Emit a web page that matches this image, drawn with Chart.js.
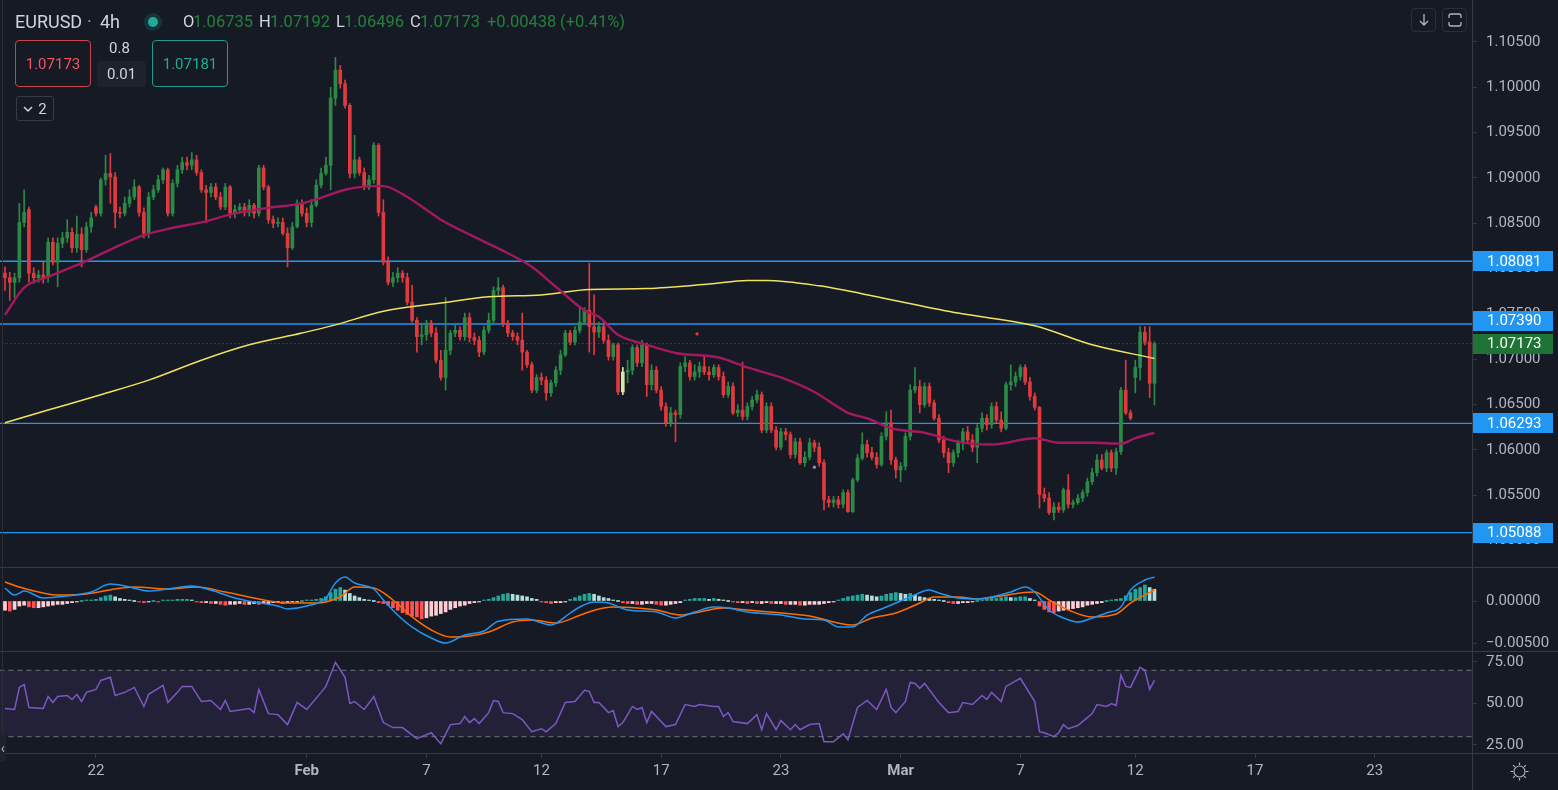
<!DOCTYPE html>
<html>
<head>
<meta charset="utf-8">
<title>EURUSD 4h</title>
<script src="https://cdn.jsdelivr.net/npm/chart.js@4.4.1/dist/chart.umd.min.js"></script>
<style>
  html, body { margin: 0; padding: 0; }
  body { width: 1558px; height: 790px; background: #161a25; position: relative; overflow: hidden;
         font-family: Roboto, 'DejaVu Sans', sans-serif; color: #d1d4dc; }
  canvas { position: absolute; left: 0; display: block; }
  #mainCanvas { top: 0; }
  #macdCanvas { top: 568px; }
  #rsiCanvas { top: 652px; }
  .hline { position: absolute; left: 0; width: 1558px; height: 1px; background: #363a45; }
  .vline { position: absolute; width: 1px; background: #363a45; }
  .abs { position: absolute; white-space: nowrap; line-height: 1; }
  .box { position: absolute; box-sizing: border-box; display: flex; align-items: center; justify-content: center; border-radius: 4px; }
  .up { color: #25803d; }
</style>
</head>
<body>
<canvas id="mainCanvas" width="1558" height="567"></canvas>
<canvas id="macdCanvas" width="1558" height="83"></canvas>
<canvas id="rsiCanvas" width="1558" height="138"></canvas>

<div class="hline" style="top:567px"></div>
<div class="hline" style="top:651px"></div>
<div class="hline" style="top:753px"></div>
<div class="vline" style="left:1472px;top:753px;height:37px"></div>
<div class="vline" style="left:2px;top:0;height:753px;background:#2a2e39"></div>

<!-- legend -->
<div class="abs" style="left:15px;top:13px;font-size:18px">EURUSD</div>
<div class="abs" style="left:87px;top:13px;font-size:18px;color:#9598a1">·</div>
<div class="abs" style="left:100px;top:13px;font-size:18px">4h</div>
<div style="position:absolute;left:144px;top:13px;width:18px;height:18px;border-radius:50%;background:rgba(34,171,148,0.18)"></div>
<div style="position:absolute;left:148px;top:17px;width:10px;height:10px;border-radius:50%;background:#22ab94"></div>
<div class="abs" style="left:183px;top:14px;font-size:16.5px">O</div>
<div class="abs up" style="left:193px;top:14px;font-size:16.5px">1.06735</div>
<div class="abs" style="left:259px;top:14px;font-size:16.5px">H</div>
<div class="abs up" style="left:270px;top:14px;font-size:16.5px">1.07192</div>
<div class="abs" style="left:336px;top:14px;font-size:16.5px">L</div>
<div class="abs up" style="left:344px;top:14px;font-size:16.5px">1.06496</div>
<div class="abs" style="left:410px;top:14px;font-size:16.5px">C</div>
<div class="abs up" style="left:420px;top:14px;font-size:16.5px">1.07173</div>
<div class="abs up" style="left:487px;top:14px;font-size:16.5px">+0.00438</div>
<div class="abs up" style="left:560px;top:14px;font-size:16.5px">(+0.41%)</div>

<div class="box" style="left:15px;top:40px;width:76px;height:47px;border:1px solid #c9434d;color:#f7525f;font-size:15px">1.07173</div>
<div class="abs" style="left:109px;top:41px;font-size:15px">0.8</div>
<div class="box" style="left:97px;top:61px;width:49px;height:26px;background:#1e222d;font-size:15px">0.01</div>
<div class="box" style="left:152px;top:40px;width:76px;height:47px;border:1px solid #1f9c8c;color:#22ab94;font-size:15px">1.07181</div>
<div class="box" style="left:16px;top:96px;width:38px;height:25px;border:1px solid #363a45;border-radius:3px;font-size:15px">
  <svg width="10" height="8" style="margin-right:5px"><path d="M1 2 L5 6 L9 2" stroke="#d1d4dc" stroke-width="1.5" fill="none"/></svg>2
</div>

<!-- top-right buttons -->
<div class="box" style="left:1411px;top:8px;width:25px;height:24px;border:1px solid #2a2e39">
  <svg width="14" height="14"><path d="M7 1 V12 M3 8 L7 12 L11 8" stroke="#b2b5be" stroke-width="1.3" fill="none"/></svg>
</div>
<div class="box" style="left:1442px;top:8px;width:25px;height:24px;border:1px solid #2a2e39">
  <svg width="16" height="16"><path d="M2 6 V4 Q2 2 4 2 H12 Q14 2 14 4 V6 M2 10 V12 Q2 14 4 14 H12 Q14 14 14 12 V10" stroke="#b2b5be" stroke-width="1.3" fill="none"/></svg>
</div>
<!-- settings gear -->
<svg style="position:absolute;left:1509px;top:761px" width="21" height="21">
  <circle cx="10.5" cy="10.5" r="5.5" stroke="#b2b5be" stroke-width="1.2" fill="none"/>
  <path d="M10.5 1.5 V4 M10.5 17 V19.5 M1.5 10.5 H4 M17 10.5 H19.5 M4.1 4.1 L5.9 5.9 M15.1 15.1 L16.9 16.9 M4.1 16.9 L5.9 15.1 M15.1 5.9 L16.9 4.1" stroke="#b2b5be" stroke-width="1.2"/>
</svg>
<div class="box" style="left:-14px;top:734px;width:20px;height:28px;background:#1e222d;justify-content:flex-end;padding-right:1px;font-size:14px;color:#b2b5be">‹</div>

<script>
// ---- price series, 4h bars (x = bar number) ----
const opens = [
  1.0795,1.0790,1.0785,1.0790,1.0851,1.0865,1.0795,1.0790,1.0793,1.0790,
  1.0829,1.0807,1.0828,1.0834,1.0840,1.0823,1.0838,1.0821,1.0846,1.0868,
  1.0861,1.0898,1.0905,1.0901,1.0862,1.0861,1.0872,1.0879,1.0890,1.0862,
  1.0839,1.0879,1.0887,1.0898,1.0909,1.0861,1.0894,1.0909,1.0917,1.0914,
  1.0920,1.0906,1.0887,1.0884,1.0890,1.0879,1.0868,1.0890,1.0861,1.0865,
  1.0868,1.0862,1.0870,1.0861,1.0911,1.0890,1.0854,1.0850,1.0851,1.0839,
  1.0823,1.0846,1.0872,1.0861,1.0851,1.0870,1.0892,1.0905,1.0914,1.0988,
  1.1019,1.1004,1.0980,1.0905,1.0920,1.0906,1.0890,1.0898,1.0936,1.0862,
  1.0807,1.0785,1.0790,1.0795,1.0790,1.0763,1.0743,1.0725,1.0727,1.0740,
  1.0729,1.0699,1.0680,1.0710,1.0729,1.0732,1.0725,1.0746,1.0724,1.0721,
  1.0708,1.0732,1.0743,1.0776,1.0779,1.0740,1.0729,1.0725,1.0721,1.0708,
  1.0694,1.0666,1.0680,1.0677,1.0663,1.0674,1.0688,1.0705,1.0729,1.0719,
  1.0732,1.0741,1.0754,1.0736,1.0730,1.0736,1.0721,1.0703,1.0716,1.0664,
  1.0686,1.0688,1.0713,1.0696,1.0716,1.0672,1.0688,1.0666,1.0648,1.0630,
  1.0641,1.0639,1.0692,1.0696,1.0681,1.0686,1.0692,1.0686,1.0683,1.0691,
  1.0681,1.0661,1.0670,1.0641,1.0644,1.0637,1.0648,1.0655,1.0661,1.0622,
  1.0648,1.0622,1.0603,1.0620,1.0617,1.0595,1.0609,1.0586,1.0592,1.0608,
  1.0603,1.0586,1.0545,1.0542,1.0545,1.0540,1.0553,1.0532,1.0567,1.0591,
  1.0606,1.0597,1.0592,1.0584,1.0615,1.0630,1.0589,1.0578,1.0582,1.0615,
  1.0666,1.0670,1.0650,1.0670,1.0652,1.0635,1.0611,1.0597,1.0586,1.0597,
  1.0608,1.0620,1.0611,1.0603,1.0624,1.0635,1.0628,1.0648,1.0633,1.0624,
  1.0672,1.0675,1.0681,1.0691,1.0675,1.0659,1.0647,1.0551,1.0547,1.0531,
  1.0537,1.0534,1.0556,1.0540,1.0542,1.0547,1.0553,1.0565,1.0575,1.0589,
  1.0580,1.0597,1.0580,1.0598,1.0666,1.0641,1.0680,1.0691,1.0730,1.0719,
  1.06735
];
const highs = [
  1.0802,1.0796,1.0795,1.0872,1.0887,1.0868,1.0801,1.0798,1.0807,1.0834,
  1.0834,1.0834,1.0840,1.0854,1.0845,1.0858,1.0845,1.0851,1.0862,1.0870,
  1.0900,1.0925,1.0927,1.0906,1.0868,1.0879,1.0887,1.0898,1.0892,1.0867,
  1.0884,1.0892,1.0903,1.0911,1.0911,1.0898,1.0914,1.0923,1.0923,1.0928,
  1.0925,1.0909,1.0892,1.0894,1.0894,1.0884,1.0894,1.0892,1.0870,1.0872,
  1.0872,1.0876,1.0872,1.0914,1.0914,1.0892,1.0858,1.0856,1.0856,1.0845,
  1.0851,1.0876,1.0876,1.0867,1.0876,1.0898,1.0911,1.0923,1.1000,1.1033,
  1.1024,1.1008,1.0982,1.0947,1.0923,1.0911,1.0903,1.0939,1.0938,1.0876,
  1.0813,1.0796,1.0801,1.0798,1.0795,1.0782,1.0746,1.0740,1.0743,1.0743,
  1.0735,1.0710,1.0768,1.0732,1.0738,1.0736,1.0751,1.0751,1.0729,1.0725,
  1.0736,1.0751,1.0780,1.0790,1.0782,1.0743,1.0732,1.0729,1.0751,1.0710,
  1.0697,1.0683,1.0685,1.0681,1.0677,1.0692,1.0710,1.0732,1.0732,1.0736,
  1.0757,1.0757,1.0806,1.0771,1.0741,1.0741,1.0727,1.0718,1.0718,1.0691,
  1.0699,1.0716,1.0716,1.0721,1.0718,1.0694,1.0692,1.0670,1.0652,1.0647,
  1.0644,1.0696,1.0703,1.0699,1.0694,1.0697,1.0703,1.0692,1.0694,1.0694,
  1.0686,1.0675,1.0674,1.0650,1.0697,1.0652,1.0659,1.0666,1.0664,1.0652,
  1.0652,1.0626,1.0624,1.0624,1.0620,1.0613,1.0613,1.0598,1.0613,1.0611,
  1.0608,1.0589,1.0549,1.0549,1.0549,1.0556,1.0556,1.0569,1.0595,1.0619,
  1.0611,1.0603,1.0597,1.0619,1.0642,1.0644,1.0592,1.0586,1.0619,1.0672,
  1.0691,1.0677,1.0674,1.0674,1.0655,1.0639,1.0615,1.0602,1.0600,1.0611,
  1.0624,1.0626,1.0617,1.0628,1.0641,1.0639,1.0652,1.0653,1.0642,1.0675,
  1.0694,1.0686,1.0694,1.0694,1.0680,1.0663,1.0648,1.0558,1.0553,1.0542,
  1.0542,1.0558,1.0573,1.0545,1.0551,1.0556,1.0569,1.0580,1.0595,1.0595,
  1.0600,1.0600,1.0602,1.0669,1.0699,1.0644,1.0699,1.0736,1.0736,1.0736,
  1.07192
];
const lows = [
  1.0776,1.0765,1.0768,1.0785,1.0846,1.0785,1.0784,1.0785,1.0784,1.0785,
  1.0804,1.0780,1.0823,1.0829,1.0818,1.0818,1.0802,1.0818,1.0840,1.0858,
  1.0858,1.0892,1.0872,1.0845,1.0856,1.0858,1.0868,1.0876,1.0858,1.0834,
  1.0834,1.0876,1.0884,1.0894,1.0858,1.0858,1.0890,1.0905,1.0909,1.0909,
  1.0903,1.0884,1.0851,1.0879,1.0876,1.0865,1.0865,1.0856,1.0856,1.0861,
  1.0858,1.0858,1.0856,1.0858,1.0887,1.0850,1.0845,1.0846,1.0837,1.0802,
  1.0821,1.0845,1.0858,1.0846,1.0846,1.0868,1.0889,1.0903,1.0887,1.0980,
  1.0999,1.0977,1.0900,1.0900,1.0903,1.0887,1.0887,1.0894,1.0858,1.0804,
  1.0782,1.0780,1.0785,1.0785,1.0760,1.0741,1.0708,1.0716,1.0721,1.0725,
  1.0696,1.0677,1.0666,1.0705,1.0725,1.0721,1.0721,1.0719,1.0716,1.0703,
  1.0705,1.0729,1.0740,1.0771,1.0736,1.0725,1.0721,1.0716,1.0688,1.0691,
  1.0663,1.0663,1.0672,1.0655,1.0659,1.0670,1.0683,1.0703,1.0716,1.0716,
  1.0729,1.0738,1.0708,1.0705,1.0724,1.0718,1.0699,1.0699,1.0661,1.0661,
  1.0674,1.0683,1.0692,1.0692,1.0659,1.0666,1.0663,1.0644,1.0626,1.0626,
  1.0609,1.0635,1.0686,1.0677,1.0677,1.0680,1.0683,1.0677,1.0680,1.0677,
  1.0658,1.0658,1.0639,1.0637,1.0633,1.0633,1.0644,1.0652,1.0619,1.0619,
  1.0619,1.0600,1.0600,1.0611,1.0591,1.0591,1.0584,1.0582,1.0589,1.0598,
  1.0582,1.0534,1.0537,1.0537,1.0536,1.0536,1.0531,1.0531,1.0565,1.0589,
  1.0592,1.0589,1.0580,1.0582,1.0611,1.0584,1.0569,1.0565,1.0578,1.0611,
  1.0663,1.0641,1.0647,1.0648,1.0633,1.0608,1.0592,1.0575,1.0582,1.0592,
  1.0600,1.0608,1.0598,1.0586,1.0620,1.0622,1.0624,1.0630,1.0620,1.0622,
  1.0666,1.0670,1.0677,1.0672,1.0655,1.0644,1.0536,1.0543,1.0529,1.0523,
  1.0531,1.0531,1.0536,1.0536,1.0540,1.0543,1.0549,1.0562,1.0571,1.0578,
  1.0576,1.0576,1.0573,1.0595,1.0639,1.0633,1.0663,1.0677,1.0716,1.0658,
  1.06496
];
const closes = [
  1.0790,1.0785,1.0790,1.0851,1.0862,1.0795,1.0790,1.0793,1.0790,1.0829,
  1.0807,1.0828,1.0834,1.0840,1.0823,1.0838,1.0821,1.0846,1.0856,1.0861,
  1.0898,1.0905,1.0901,1.0862,1.0861,1.0872,1.0879,1.0890,1.0862,1.0839,
  1.0879,1.0887,1.0898,1.0909,1.0861,1.0894,1.0909,1.0917,1.0914,1.0920,
  1.0906,1.0887,1.0884,1.0890,1.0879,1.0868,1.0890,1.0861,1.0865,1.0868,
  1.0862,1.0870,1.0861,1.0911,1.0890,1.0854,1.0850,1.0851,1.0839,1.0823,
  1.0846,1.0872,1.0861,1.0851,1.0870,1.0892,1.0905,1.0914,1.0988,1.1019,
  1.1004,1.0980,1.0905,1.0920,1.0906,1.0890,1.0898,1.0936,1.0862,1.0807,
  1.0785,1.0790,1.0795,1.0790,1.0763,1.0743,1.0725,1.0727,1.0740,1.0729,
  1.0699,1.0680,1.0710,1.0729,1.0732,1.0725,1.0746,1.0724,1.0721,1.0708,
  1.0732,1.0743,1.0776,1.0779,1.0740,1.0729,1.0725,1.0721,1.0708,1.0694,
  1.0666,1.0680,1.0677,1.0663,1.0674,1.0688,1.0705,1.0729,1.0719,1.0732,
  1.0741,1.0754,1.0736,1.0730,1.0736,1.0721,1.0703,1.0716,1.0664,1.0686,
  1.0688,1.0713,1.0696,1.0716,1.0672,1.0688,1.0666,1.0648,1.0630,1.0641,
  1.0639,1.0692,1.0696,1.0681,1.0686,1.0692,1.0686,1.0683,1.0691,1.0681,
  1.0661,1.0670,1.0641,1.0644,1.0637,1.0648,1.0655,1.0661,1.0622,1.0648,
  1.0622,1.0603,1.0620,1.0617,1.0595,1.0609,1.0586,1.0592,1.0608,1.0603,
  1.0586,1.0545,1.0542,1.0545,1.0540,1.0553,1.0532,1.0567,1.0591,1.0606,
  1.0597,1.0592,1.0584,1.0615,1.0630,1.0589,1.0578,1.0582,1.0615,1.0666,
  1.0670,1.0650,1.0670,1.0652,1.0635,1.0611,1.0597,1.0586,1.0597,1.0608,
  1.0620,1.0611,1.0603,1.0624,1.0635,1.0628,1.0648,1.0633,1.0624,1.0672,
  1.0675,1.0681,1.0691,1.0675,1.0659,1.0647,1.0551,1.0547,1.0531,1.0537,
  1.0534,1.0556,1.0540,1.0542,1.0547,1.0553,1.0565,1.0575,1.0589,1.0580,
  1.0597,1.0580,1.0598,1.0666,1.0641,1.0635,1.0691,1.0730,1.0719,1.06735,
  1.07173
];
const selectedBar = 129;

// moving averages, read at sample bars
const maFastIdx  = [0,4,9,16,22,29,35,41,48,55,62,66,71,77,79,84,91,98,105,110,115,121,124,128,134,140,149,155,162,169,176,180,185,192,199,206,215,220,227,233,236,240];
const maFastVals = [1.0749,1.0779,1.0791,1.0806,1.0821,1.0837,1.0845,1.0851,1.0861,1.0867,1.0872,1.0878,1.0887,1.0891,1.0891,1.0879,1.0854,1.0835,1.0817,1.0802,1.0780,1.0754,1.0747,1.0727,1.0716,1.0707,1.0702,1.0691,1.0680,1.0664,1.0641,1.0635,1.0624,1.0619,1.0609,1.0606,1.0613,1.0608,1.0608,1.0607,1.0613,1.0619];
const maSlowIdx  = [0,9,20,30,41,51,62,69,79,91,101,112,122,134,147,155,159,170,183,199,215,227,240];
const maSlowVals = [1.0630,1.0644,1.0661,1.0677,1.0699,1.0716,1.0729,1.0738,1.0753,1.0762,1.0769,1.0771,1.0777,1.0778,1.0783,1.0787,1.0787,1.0781,1.0768,1.0751,1.0737,1.0716,1.0701];

// horizontal levels and last price
const levelValues = [1.08081, 1.07390, 1.06293, 1.05088];
const lastPrice = 1.07173;
const markerIdx  = [144.5, 169];
const markerVals = [1.0728, 1.0581];
const markerColors = ['#e03a3e', '#9598a1'];

// MACD
const macdIdx  = [0,2,4,8,13,18,22,26,30,34,39,43,48,52,57,59,63,67,69,71,73,77,79,82,85,89,92,96,100,103,109,114,118,120,123,126,130,136,140,144,148,151,155,162,167,171,174,177,180,183,186,189,193,195,199,203,206,210,213,215,218,221,224,227,230,233,235,238,240];
const macdVals = [0.00155,0.00071,0.00119,0.00036,0.00060,0.00107,0.00202,0.00167,0.00119,0.00143,0.00179,0.00131,0.00036,-0.00012,-0.00060,-0.00095,-0.00060,0.00036,0.00214,0.00286,0.00214,0.00143,0.00012,-0.00167,-0.00310,-0.00440,-0.00500,-0.00405,-0.00357,-0.00240,-0.00214,-0.00286,-0.00143,-0.00071,-0.00012,-0.00024,-0.00107,-0.00131,-0.00202,-0.00131,-0.00071,-0.00083,-0.00131,-0.00167,-0.00214,-0.00226,-0.00310,-0.00310,-0.00167,-0.00095,-0.00024,0.00048,0.00131,0.00095,0.00036,0.00024,0.00048,0.00107,0.00167,0.00107,-0.00107,-0.00202,-0.00250,-0.00202,-0.00143,-0.00071,0.00131,0.00250,0.00286];
const signalIdx  = [0,3,7,11,17,23,27,34,40,46,52,59,65,70,73,77,81,85,89,93,97,101,106,110,115,120,123,127,132,136,141,145,150,155,162,169,173,177,181,186,191,194,199,203,208,212,215,218,222,227,232,235,240];
const signalVals = [0.00226,0.00167,0.00107,0.00071,0.00083,0.00143,0.00167,0.00143,0.00167,0.00107,0.00036,-0.00024,-0.00024,0.00048,0.00167,0.00155,0.00012,-0.00190,-0.00345,-0.00429,-0.00417,-0.00369,-0.00250,-0.00226,-0.00262,-0.00170,-0.00110,-0.00071,-0.00083,-0.00107,-0.00167,-0.00131,-0.00083,-0.00107,-0.00143,-0.00190,-0.00250,-0.00286,-0.00202,-0.00143,-0.00024,0.00048,0.00048,0.00024,0.00060,0.00095,0.00107,0.00012,-0.00107,-0.00190,-0.00155,-0.00024,0.00131];
const macdHist = [
  -0.0011,-0.0012,-0.0010,-0.0006,-0.0005,-0.0007,-0.0008,-0.0008,-0.0007,-0.0006,-0.0005,-0.0004,-0.0004,-0.0003,-0.0002,
  -0.0001,0,0.0001,0.0001,0.0002,
  0.0004,0.0006,0.0007,0.0005,0.0003,
  0.0002,0.0001,0,-0.0001,-0.0002,-0.0001,0,-0.0001,0.0001,
  0.0001,0.0001,0.0002,0.0002,0.0002,0.0001,-0.0001,-0.0002,-0.0002,-0.0003,-0.0003,
  -0.0004,-0.0005,-0.0004,-0.0004,-0.0003,-0.0004,-0.0004,-0.0003,-0.0004,-0.0003,-0.0003,-0.0002,-0.0002,
  -0.0003,-0.0002,-0.0001,-0.0001,0,0.0001,0.0001,0.0002,
  0.0003,0.0005,0.0010,0.0014,0.0016,0.0013,0.0009,
  0.0006,0.0004,0.0002,0.0001,0,
  -0.0002,-0.0003,-0.0005,-0.0008,
  -0.0011,-0.0014,-0.0016,-0.0018,-0.0019,-0.0021,-0.0020,
  -0.0018,-0.0017,-0.0015,-0.0013,-0.0010,-0.0008,-0.0006,-0.0005,-0.0003,-0.0002,-0.0001,
  0.0001,0.0002,0.0004,0.0006,0.0008,0.0009,0.0008,0.0007,
  0.0006,0.0005,0.0003,0.0002,
  -0.0001,-0.0002,-0.0003,-0.0002,-0.0002,-0.0001,
  0.0002,0.0004,0.0006,0.0008,0.0009,0.0008,0.0006,
  0.0004,0.0003,0.0001,0,
  -0.0002,-0.0003,-0.0003,-0.0004,-0.0004,-0.0003,-0.0003,-0.0004,-0.0005,-0.0005,-0.0004,-0.0003,-0.0002,
  0.0001,0.0002,0.0003,0.0003,0.0003,0.0002,0.0003,0.0002,0.0001,0,
  -0.0001,-0.0002,-0.0002,-0.0003,-0.0002,-0.0003,-0.0003,-0.0002,-0.0003,-0.0003,-0.0003,-0.0004,-0.0004,-0.0004,-0.0005,-0.0005,-0.0004,-0.0004,-0.0004,-0.0003,-0.0002,-0.0001,
  0.0001,0.0003,0.0005,0.0006,0.0007,0.0008,0.0007,0.0006,0.0005,
  0.0006,0.0008,0.0009,0.0010,0.0009,0.0008,0.0009,0.0007,0.0005,
  0.0004,0.0003,0.0002,0.0001,0,
  -0.0002,-0.0003,-0.0003,-0.0002,-0.0002,-0.0001,
  0,0.0001,0.0002,0.0003,0.0003,0.0004,0.0005,0.0004,0.0004,0.0005,0.0005,0.0003,
  0.0001,
  -0.0006,-0.0010,-0.0013,-0.0014,-0.0012,
  -0.0011,-0.0010,-0.0009,-0.0008,-0.0007,-0.0005,-0.0004,-0.0003,-0.0002,
  0,0.0001,0.0002,0.0003,0.0006,0.0010,0.0014,0.0016,0.0019,0.0016,0.0014
];

// RSI
const rsiIdx  = [0,2,3,4,5,8,9,10,11,13,14,15,16,17,19,20,22,23,25,27,29,30,33,34,36,37,39,41,43,45,46,47,51,52,53,55,57,59,61,63,66,67,69,71,72,73,75,77,79,81,83,86,89,91,93,95,96,97,98,99,101,102,103,104,106,108,110,112,113,115,117,119,121,122,123,124,126,127,128,129,131,132,133,134,135,138,140,142,144,145,148,149,150,151,152,155,157,158,159,161,162,164,165,166,168,170,171,173,175,176,178,180,182,184,185,186,188,189,190,191,192,195,197,199,200,202,204,205,206,208,209,212,215,216,217,219,220,221,222,224,227,228,230,231,232,233,234,235,237,238,239,240];
const rsiVals = [47.0,46.4,59.7,61.5,47.6,47.0,54.2,50.6,54.2,54.8,52.4,55.5,51.2,56.7,58.5,63.9,65.8,54.8,56.7,59.7,48.2,55.5,60.9,50.6,56.7,60.3,60.3,51.2,51.8,46.4,51.8,45.2,47.0,44.5,58.5,43.9,43.3,37.3,50.6,46.4,56.7,60.3,74.8,65.8,50.0,51.2,46.4,54.2,38.5,35.5,35.5,28.8,32.4,25.8,37.3,37.9,42.1,38.5,40.9,37.9,44.5,51.8,51.2,44.5,43.9,40.3,33.0,34.8,33.0,37.9,50.6,51.2,57.9,57.3,50.6,50.6,44.5,45.8,36.1,38.5,48.2,46.4,47.6,38.5,45.2,36.1,37.3,49.4,48.2,49.4,48.2,48.2,42.1,44.5,39.1,37.9,43.3,34.2,43.9,34.2,39.7,34.2,37.3,34.2,37.3,37.9,27.0,27.0,31.8,28.2,47.6,51.8,46.4,58.5,47.6,44.5,51.2,62.7,62.1,59.1,62.1,50.6,44.5,45.2,50.6,49.4,54.8,52.4,56.7,51.2,60.3,65.2,51.2,33.0,32.4,30.0,32.4,37.3,34.8,36.7,43.9,49.4,48.2,50.0,48.8,67.0,60.3,59.7,71.8,70.0,58.5,63.9];
const rsiBands = [70, 30];

// axes
const priceTicks = [1.050,1.055,1.060,1.065,1.070,1.075,1.080,1.085,1.090,1.095,1.100,1.105];
const macdTicks = [-0.005, 0];
const rsiTicks = [25, 50, 75];
const timeTickIdx = [19, 63, 88, 112, 137, 162, 187, 212, 236, 261, 286];
const timeTickLabels = ['22', 'Feb', '7', '12', '17', '23', 'Mar', '7', '12', '17', '23'];

// ---- look ----
const UP = '#2b8a46', DOWN = '#e03a3e', PALE = '#d6e7a8';
const AXIS_LINE = '#363a45';
const X_MIN = -1.04, X_MAX = 306.3;
const FONT = 'Roboto, "DejaVu Sans", sans-serif';

Chart.defaults.font.family = FONT;
Chart.defaults.font.size = 15;
Chart.defaults.color = '#b2b5be';
Chart.defaults.animation = false;
Chart.defaults.plugins.legend.display = false;
Chart.defaults.plugins.tooltip.enabled = false;

const pts = (xs, ys) => xs.map((x, k) => ({ x, y: ys[k] }));
const flat = (v) => [{ x: X_MIN - 2, y: v }, { x: X_MAX + 2, y: v }];
const LAYOUT = { padding: 0, autoPadding: false };

function priceAxis(min, max, values, fmt) {
  return {
    type: 'linear', position: 'right', min, max,
    afterBuildTicks: s => { s.ticks = values.map(v => ({ value: v })); },
    afterFit: s => { s.width = 86; s.paddingTop = 0; s.paddingBottom = 0; },
    ticks: { callback: fmt, padding: 9, autoSkip: false },
    grid: { display: true, drawOnChartArea: false, drawTicks: true, tickLength: 5, color: AXIS_LINE },
    border: { display: true, color: AXIS_LINE }
  };
}
function barAxis() {
  return { type: 'linear', min: X_MIN, max: X_MAX, offset: false, display: false, grid: { offset: false } };
}

// price tags on the right scale
const priceTags = {
  id: 'priceTags',
  afterDraw(chart) {
    const { ctx, scales: { y } } = chart;
    const left = chart.chartArea.right + 1;
    const lastY = y.getPixelForValue(lastPrice);
    const tag = (v, py, bg) => {
      ctx.fillStyle = bg;
      ctx.fillRect(left, Math.round(py - 10), 80, 20);
      ctx.fillStyle = '#ffffff';
      ctx.font = '15px ' + FONT;
      ctx.textBaseline = 'middle';
      ctx.textAlign = 'left';
      ctx.fillText(v.toFixed(5), left + 14, py + 1);
    };
    ctx.save();
    levelValues.forEach(v => {
      let py = y.getPixelForValue(v);
      if (Math.abs(py - lastY) < 23) py = lastY + (py < lastY ? -23 : 23);
      tag(v, py, '#2196f3');
    });
    tag(lastPrice, lastY, '#1f7334');
    ctx.restore();
  }
};

const candleColor = (i) => i === selectedBar ? PALE : (closes[i] >= opens[i] ? UP : DOWN);

new Chart(document.getElementById('mainCanvas'), {
  type: 'bar',
  data: {
    datasets: [
      ...levelValues.map(v => ({
        type: 'line', data: flat(v), borderColor: '#2196f3', borderWidth: 1.4,
        pointRadius: 0, order: 8
      })),
      { type: 'line', data: flat(lastPrice), borderColor: '#2f7d45', borderWidth: 1,
        borderDash: [1, 3], pointRadius: 0, order: 8 },
      { label: 'wick', data: highs.map((h, i) => ({ x: i, y: [lows[i], h] })),
        backgroundColor: highs.map((h, i) => candleColor(i)), barThickness: 1,
        grouped: false, borderWidth: 0, order: 5 },
      { label: 'body', data: opens.map((o, i) => ({ x: i, y: [o, closes[i]] })),
        backgroundColor: opens.map((o, i) => candleColor(i)), barThickness: 3,
        minBarLength: 1, grouped: false, borderWidth: 0, order: 4 },
      { type: 'line', data: pts(maSlowIdx, maSlowVals), borderColor: '#f2e35e', borderWidth: 1.5,
        pointRadius: 0, cubicInterpolationMode: 'monotone', order: 2 },
      { type: 'line', data: pts(maFastIdx, maFastVals), borderColor: '#a3195f', borderWidth: 2.4,
        pointRadius: 0, cubicInterpolationMode: 'monotone', order: 1 },
      { type: 'line', data: pts(markerIdx, markerVals), showLine: false, pointRadius: 1.6,
        pointHoverRadius: 1.6, pointBackgroundColor: markerColors, pointBorderWidth: 0, order: 0 }
    ]
  },
  options: {
    responsive: false,
    layout: LAYOUT,
    scales: {
      x: barAxis(),
      y: priceAxis(1.047094, 1.109628, priceTicks, v => v.toFixed(5))
    }
  },
  plugins: [priceTags]
});

const histColors = macdHist.map((h, i) => {
  const prev = i ? macdHist[i - 1] : h;
  if (h >= 0) return h >= prev ? '#26a69a' : '#b2dfdb';
  return h < prev ? '#ff5252' : '#ffcdd2';
});

new Chart(document.getElementById('macdCanvas'), {
  type: 'bar',
  data: {
    datasets: [
      { data: macdHist.map((h, i) => ({ x: i, y: h })), backgroundColor: histColors,
        barThickness: 3, minBarLength: 1, grouped: false, borderWidth: 0, order: 3 },
      { type: 'line', data: pts(signalIdx, signalVals), borderColor: '#ff6d00', borderWidth: 1.5,
        pointRadius: 0, cubicInterpolationMode: 'monotone', order: 2 },
      { type: 'line', data: pts(macdIdx, macdVals), borderColor: '#2196f3', borderWidth: 1.5,
        pointRadius: 0, cubicInterpolationMode: 'monotone', order: 1 }
    ]
  },
  options: {
    responsive: false,
    layout: LAYOUT,
    scales: {
      x: barAxis(),
      y: priceAxis(-0.005952, 0.003929, macdTicks,
        v => (v < 0 ? '\u2212' : '') + Math.abs(v).toFixed(5))
    }
  }
});

new Chart(document.getElementById('rsiCanvas'), {
  type: 'line',
  data: {
    datasets: [
      { data: flat(rsiBands[0]), borderColor: 'rgba(120,123,134,0.9)', borderWidth: 1,
        borderDash: [5, 4], pointRadius: 0, fill: '+1', backgroundColor: 'rgba(126,87,194,0.12)' },
      { data: flat(rsiBands[1]), borderColor: 'rgba(120,123,134,0.9)', borderWidth: 1,
        borderDash: [5, 4], pointRadius: 0, fill: false },
      { data: pts(rsiIdx, rsiVals), borderColor: '#7e57c2', borderWidth: 1.5, pointRadius: 0,
        tension: 0, fill: false }
    ]
  },
  options: {
    responsive: false,
    layout: LAYOUT,
    scales: {
      x: {
        type: 'linear', min: X_MIN, max: X_MAX, offset: false, position: 'bottom',
        afterBuildTicks: s => { s.ticks = timeTickIdx.map(v => ({ value: v })); },
        afterFit: s => { s.height = 37; s.paddingLeft = 0; s.paddingRight = 0; },
        ticks: {
          autoSkip: false, maxRotation: 0, padding: 4,
          callback: (v, i) => timeTickLabels[i],
          font: c => ({ family: FONT, size: 15,
            weight: ['Feb', 'Mar'].includes(timeTickLabels[c.index]) ? 'bold' : 'normal' })
        },
        grid: { display: true, offset: false, drawOnChartArea: false, drawTicks: true, tickLength: 5, color: AXIS_LINE },
        border: { display: false }
      },
      y: priceAxis(20.18, 81.02, rsiTicks, v => v.toFixed(2))
    }
  }
});
</script>
</body>
</html>
